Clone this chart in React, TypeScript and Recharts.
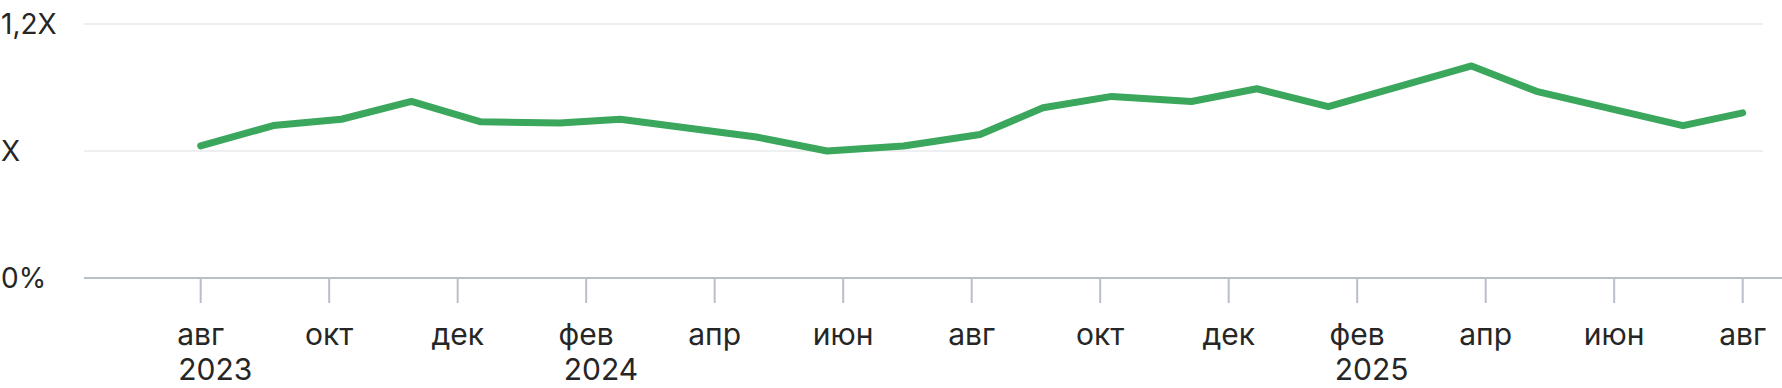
import { CartesianGrid, Line, LineChart, XAxis, YAxis } from "recharts";

const GREEN = "#3aa75c";
const AXIS = "#b9bfc8";
const GRID = "#eeeff1";
const TEXT = "#262626";
const FONT = "Inter, 'Noto Sans', sans-serif";

// months since Aug 2023
const monthOffsets = [
  0, 1.13, 2.19, 3.28, 4.36, 5.59, 6.53, 8.65, 9.75, 10.94, 12.13, 13.11, 14.18, 15.42, 16.44,
  17.55, 19.78, 20.79, 23.07, 24,
];
const values = [
  1.04, 1.2, 1.25, 1.39, 1.23, 1.22, 1.25, 1.11, 1.0, 1.04, 1.13, 1.34, 1.43, 1.39, 1.49, 1.35,
  1.67, 1.47, 1.2, 1.3,
];

const tickValues = [0, 2, 4, 6, 8, 10, 12, 14, 16, 18, 20, 22, 24];
const tickMonths = ["авг", "окт", "дек", "фев", "апр", "июн", "авг", "окт", "дек", "фев", "апр", "июн", "авг"];
const tickYears = ["2023", "", "", "2024", "", "", "", "", "", "2025", "", "", ""];

const yTicks = [0, 1, 2];
const yLabels = ["0%", "X", "1,2X"];

const data = monthOffsets.map((m, i) => ({ m, v: values[i] }));

const X_FONT = 30;
const YEAR_FONT = 30;

function MonthTick(props: any) {
  const { x, y, payload } = props;
  const i = tickValues.indexOf(payload.value);
  const month = tickMonths[i] ?? "";
  const year = tickYears[i] ?? "";
  const half = (month.length * 0.5 * X_FONT) / 2;
  return (
    <g>
      <text x={x} y={y} dy={40} textAnchor="middle" fill={TEXT} fontSize={X_FONT} fontFamily={FONT}>
        {month}
      </text>
      {year && (
        <text x={x - half} y={y} dy={75} textAnchor="start" fill={TEXT} fontSize={YEAR_FONT} fontFamily={FONT}>
          {year}
        </text>
      )}
    </g>
  );
}

function ValueTick(props: any) {
  const { y, payload } = props;
  const i = yTicks.indexOf(payload.value);
  return (
    <text x={1} y={y} dy={9.5} textAnchor="start" fill={TEXT} fontSize={28} fontFamily={FONT}>
      {yLabels[i]}
    </text>
  );
}

function GridLine(props: any) {
  const { x1, x2, y1, y2 } = props;
  return <line x1={x1} x2={x2 - 19} y1={y1} y2={y2} stroke={GRID} strokeWidth={2} />;
}

export default function App() {
  return (
    <div style={{ position: "absolute", left: 0, top: 0, background: "#fff" }}>
      <LineChart width={1782} height={388} data={data} margin={{ top: 24, right: 0, bottom: 0, left: 0 }}>
        <CartesianGrid vertical={false} horizontal={GridLine} />
        <XAxis
          dataKey="m"
          type="number"
          domain={[-1.816, 24.612]}
          allowDataOverflow
          ticks={tickValues}
          interval={0}
          height={110}
          tickSize={25}
          axisLine={{ stroke: AXIS, strokeWidth: 2 }}
          tickLine={{ stroke: AXIS, strokeWidth: 2 }}
          tick={<MonthTick />}
        />
        <YAxis
          type="number"
          domain={[0, 2]}
          ticks={yTicks}
          width={84}
          axisLine={false}
          tickLine={false}
          tick={<ValueTick />}
        />
        <Line
          type="linear"
          dataKey="v"
          stroke={GREEN}
          strokeWidth={7}
          strokeLinecap="round"
          strokeLinejoin="round"
          dot={false}
          activeDot={false}
          isAnimationActive={false}
        />
      </LineChart>
    </div>
  );
}
